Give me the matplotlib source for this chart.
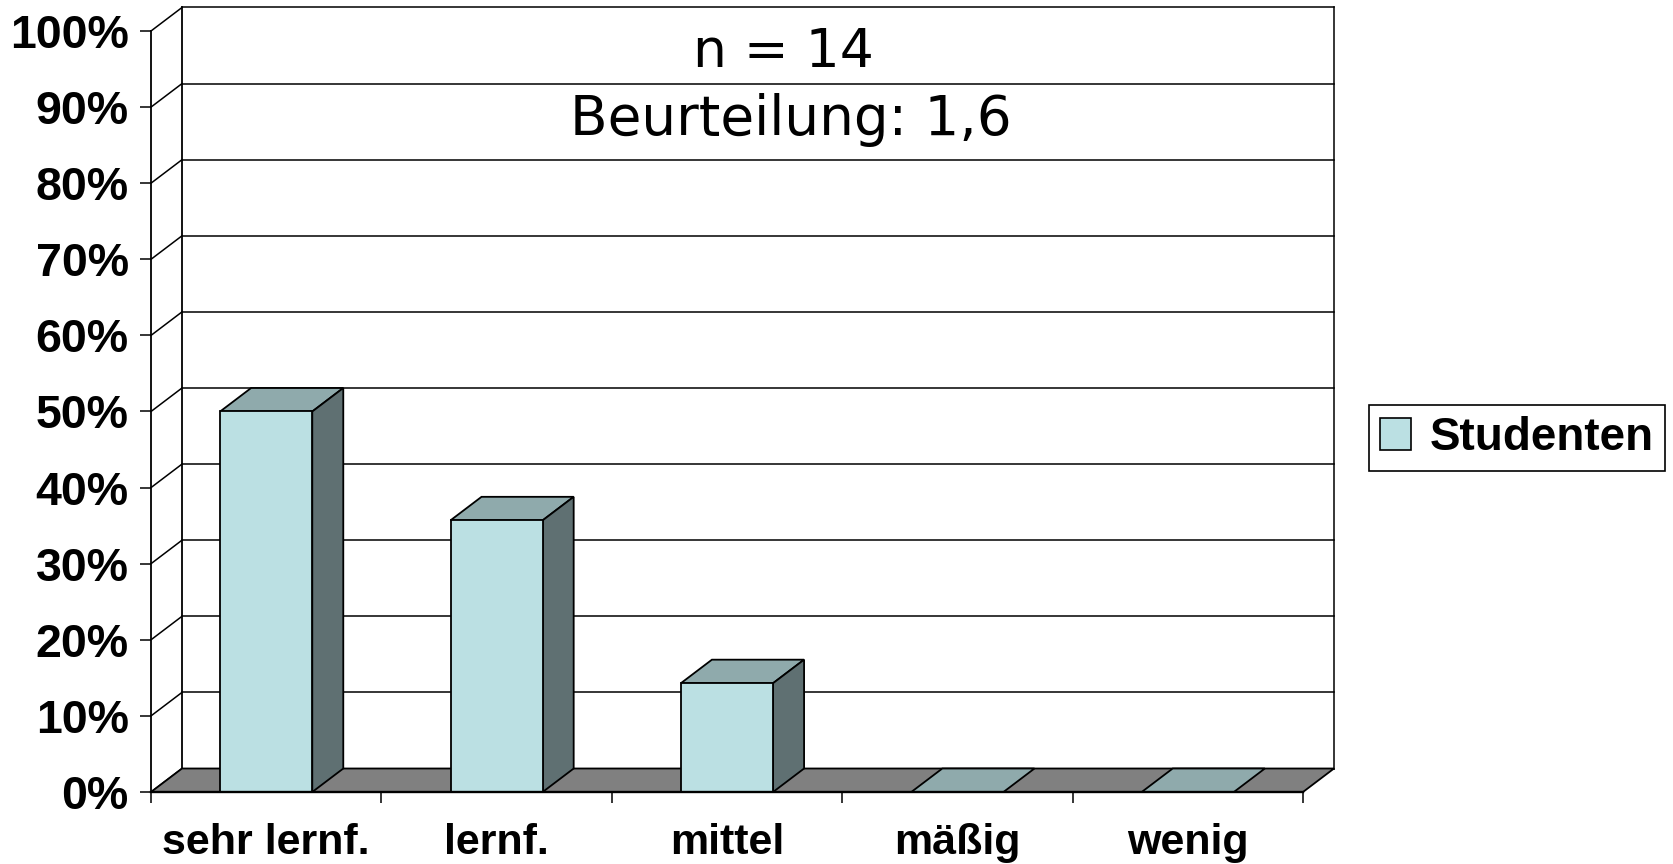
"""3D-style Excel bar chart: Studenten-Beurteilung (n = 14)."""
import matplotlib
matplotlib.use("Agg")
import matplotlib.pyplot as plt
from matplotlib.patches import Polygon, Patch

categories = ["sehr lernf.", "lernf.", "mittel", "mäßig", "wenig"]
studenten = [50.0, 35.7, 14.3, 0.0, 0.0]
y_ticks = [0, 10, 20, 30, 40, 50, 60, 70, 80, 90, 100]
y_labels = [f"{v}%" for v in y_ticks]
title_n = "n = 14"
title_grade = "Beurteilung: 1,6"
series_name = "Studenten"

FRONT = "#bbe0e3"
TOP = "#8faaac"
SIDE = "#5f7072"
FLOOR = "#808080"

W, H, DPI = 1673, 864, 100
fig = plt.figure(figsize=(W / DPI, H / DPI), dpi=DPI)
fig.patch.set_facecolor("white")

# front plane of the plot in pixels
left_px, right_px, bottom_px, top_px = 151, 1303, 792, 31
ax = fig.add_axes([left_px / W, 1 - bottom_px / H,
                   (right_px - left_px) / W, (bottom_px - top_px) / H])
n = len(categories)
ax.set_xlim(0, n)
ax.set_ylim(0, 100)
ax.set_facecolor("none")

# depth of the 3D box, converted from pixels to data units
dx = 31 / ((right_px - left_px) / n)
dy = 23.5 / ((bottom_px - top_px) / 100)

lw_grid = 1.1
lw_edge = 1.3

# back wall grid + left wall diagonals
for v in y_ticks:
    ax.plot([0, dx], [v, v + dy], color="black", lw=lw_grid, zorder=1, clip_on=False)
    ax.plot([dx, n + dx], [v + dy, v + dy], color="black", lw=lw_grid, zorder=1, clip_on=False)
ax.plot([dx, dx], [dy, 100 + dy], color="black", lw=lw_edge, zorder=1, clip_on=False)
ax.plot([n + dx, n + dx], [dy, 100 + dy], color="black", lw=lw_grid, zorder=1, clip_on=False)

# floor
ax.add_patch(Polygon([(0, 0), (n, 0), (n + dx, dy), (dx, dy)], closed=True,
                     facecolor=FLOOR, edgecolor="black", lw=lw_edge, zorder=2, clip_on=False))

# bars
bw = 0.4
for i, v in enumerate(studenten):
    x0 = i + 0.5 - bw / 2
    x1 = x0 + bw
    ax.add_patch(Polygon([(x0, v), (x1, v), (x1 + dx, v + dy), (x0 + dx, v + dy)], closed=True,
                         facecolor=TOP, edgecolor="black", lw=lw_edge, zorder=3, clip_on=False))
    if v > 0:
        ax.add_patch(Polygon([(x1, 0), (x1 + dx, dy), (x1 + dx, v + dy), (x1, v)], closed=True,
                             facecolor=SIDE, edgecolor="black", lw=lw_edge, zorder=3, clip_on=False))
        ax.add_patch(Polygon([(x0, 0), (x1, 0), (x1, v), (x0, v)], closed=True,
                             facecolor=FRONT, edgecolor="black", lw=lw_edge, zorder=3, clip_on=False))

# axes styling
for s in ["top", "right"]:
    ax.spines[s].set_visible(False)
ax.spines["left"].set_linewidth(lw_edge)
ax.spines["bottom"].set_linewidth(lw_edge + 0.4)
ax.spines["bottom"].set_zorder(4)

ax.set_yticks(y_ticks)
ax.set_yticklabels(y_labels, fontsize=33.5, fontweight="bold", family="Liberation Sans")
ax.tick_params(axis="y", direction="out", length=8, width=1.1, pad=8)

ax.set_xticks(range(n + 1))
ax.set_xticklabels([])
ax.set_xticks([i + 0.5 for i in range(n)], minor=True)
ax.set_xticklabels(categories, minor=True, fontsize=31, fontweight="bold", family="Liberation Sans")
ax.tick_params(axis="x", which="major", direction="out", length=8, width=1.1)
ax.tick_params(axis="x", which="minor", length=0, pad=22)

# titles inside the chart
fig.text(783 / W, 1 - 67 / H, title_n, ha="center", va="baseline", fontsize=38.5, family="DejaVu Sans")
fig.text(791 / W, 1 - 135 / H, title_grade, ha="center", va="baseline", fontsize=39.5, family="DejaVu Sans")

# legend
handle = Patch(facecolor=FRONT, edgecolor="black", lw=1.2, label=series_name)
leg = fig.legend(handles=[handle], loc="center", bbox_to_anchor=(1517 / W, 1 - 438 / H),
                 prop={"family": "Liberation Sans", "weight": "bold", "size": 33},
                 frameon=True, fancybox=False, framealpha=1, edgecolor="black",
                 handlelength=0.68, handleheight=0.68, handletextpad=0.4, borderpad=0.25)
leg.get_frame().set_linewidth(1.2)

fig.savefig("out.png", dpi=DPI)
